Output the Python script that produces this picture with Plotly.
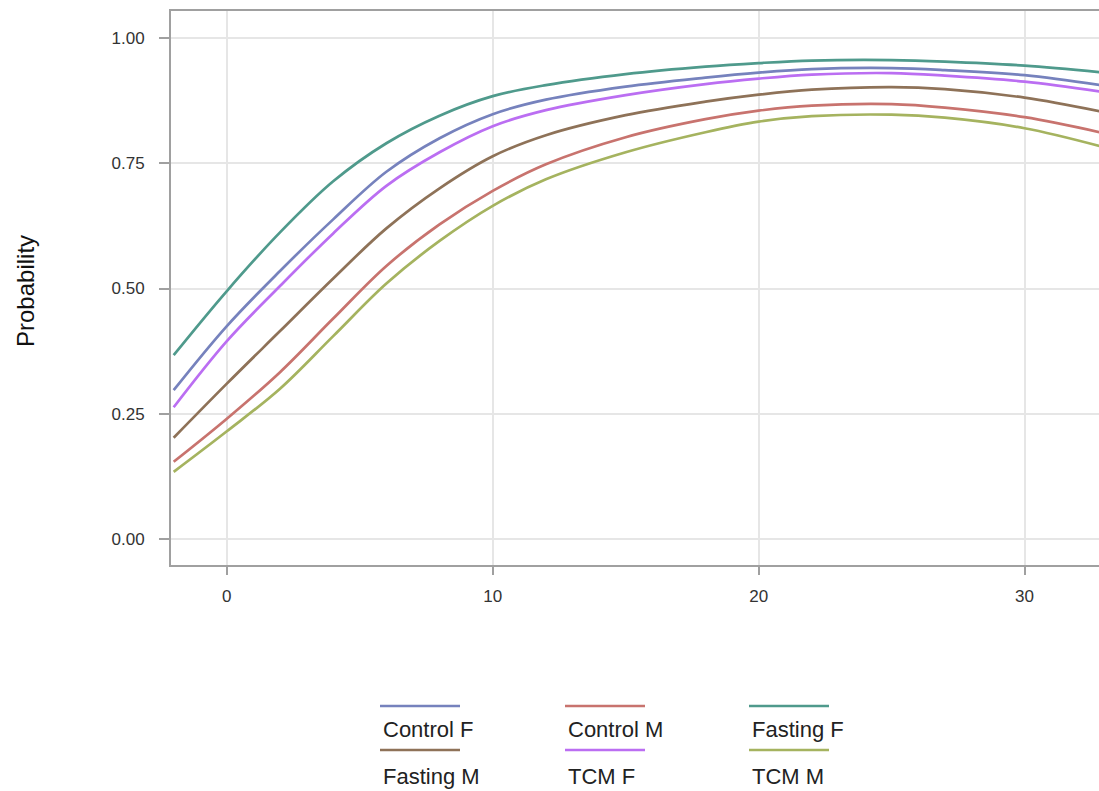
import plotly.graph_objects as go

x_vals = [-2, 0, 2, 4, 6, 8, 10, 12, 15, 18, 20, 22, 25, 27, 30, 33]

control_f = [0.297, 0.425, 0.535, 0.638, 0.733, 0.800, 0.848, 0.877, 0.903, 0.921, 0.931, 0.938, 0.940, 0.936, 0.926, 0.905]
control_m = [0.154, 0.240, 0.333, 0.440, 0.545, 0.628, 0.695, 0.748, 0.802, 0.838, 0.855, 0.865, 0.868, 0.861, 0.842, 0.810]
fasting_f = [0.367, 0.495, 0.612, 0.714, 0.790, 0.845, 0.884, 0.906, 0.928, 0.943, 0.950, 0.955, 0.956, 0.953, 0.945, 0.931]
fasting_m = [0.202, 0.310, 0.415, 0.520, 0.620, 0.700, 0.764, 0.806, 0.846, 0.873, 0.887, 0.897, 0.902, 0.898, 0.881, 0.852]
tcm_f = [0.263, 0.395, 0.505, 0.610, 0.705, 0.772, 0.824, 0.856, 0.886, 0.908, 0.919, 0.927, 0.930, 0.925, 0.913, 0.892]
tcm_m = [0.134, 0.215, 0.300, 0.405, 0.510, 0.595, 0.665, 0.718, 0.772, 0.812, 0.833, 0.844, 0.847, 0.841, 0.820, 0.782]

series_names = ["Control F", "Control M", "Fasting F", "Fasting M", "TCM F", "TCM M"]
series_values = [control_f, control_m, fasting_f, fasting_m, tcm_f, tcm_m]
colors = ["#7682bd", "#c8736e", "#4f9a8c", "#8e7258", "#bb6ef2", "#a5b35f"]

y_ticks = [0.0, 0.25, 0.5, 0.75, 1.0]
y_tick_labels = ["0.00", "0.25", "0.50", "0.75", "1.00"]
x_ticks = [0, 10, 20, 30]

fig = go.Figure()
for name, vals, col in zip(series_names, series_values, colors):
    fig.add_trace(go.Scatter(x=x_vals, y=vals, mode="lines", name=name,
                             line=dict(color=col, width=2.7, shape="spline", smoothing=1.0),
                             showlegend=False))

W, H = 1099, 791
ml, mr, mt, mb = 171, 0, 11, 226
pw, ph = W - ml - mr, H - mt - mb

def px_to_paper(px, py):
    return (px - ml) / pw, (H - mb - py) / ph

# custom legend: line above text, 3 columns x 2 rows
col_x = [380, 565, 749]
row_line_y = [706, 750]
row_text_y = [729, 776]
shapes = []
annotations = []
for i, (name, col) in enumerate(zip(series_names, colors)):
    r, c = divmod(i, 3)
    x0, y0 = px_to_paper(col_x[c], row_line_y[r])
    x1, _ = px_to_paper(col_x[c] + 80, row_line_y[r])
    shapes.append(dict(type="line", xref="paper", yref="paper", x0=x0, x1=x1, y0=y0, y1=y0,
                       line=dict(color=col, width=2.6)))
    tx, ty = px_to_paper(col_x[c] + 1, row_text_y[r])
    annotations.append(dict(text=name, xref="paper", yref="paper", x=tx, y=ty,
                            xanchor="left", yanchor="middle", showarrow=False,
                            font=dict(family="Liberation Sans, Arial", size=22, color="#222222")))

tx, ty = px_to_paper(25, 291)
annotations.append(dict(text="Probability", xref="paper", yref="paper", x=tx, y=ty,
                        xanchor="center", yanchor="middle", textangle=-90, showarrow=False,
                        font=dict(family="Liberation Sans, Arial", size=24, color="#111111")))

tick_font = dict(family="Liberation Sans, Arial", size=17, color="#333333")

fig.update_layout(
    width=W, height=H,
    margin=dict(l=ml, r=mr, t=mt, b=mb, pad=0),
    plot_bgcolor="white", paper_bgcolor="white",
    shapes=shapes, annotations=annotations,
    xaxis=dict(range=[-2.1, 32.8], tickvals=x_ticks, showgrid=True, gridcolor="#e6e6e6", gridwidth=1.5,
               zeroline=False, showline=True, linecolor="#a0a0a0", linewidth=2, mirror=True,
               ticks="outside", ticklen=8, tickcolor="#a0a0a0", tickwidth=2,
               ticklabelstandoff=7, tickfont=tick_font),
    yaxis=dict(range=[-0.052, 1.054], tickvals=y_ticks, ticktext=y_tick_labels, showgrid=True,
               gridcolor="#e6e6e6", gridwidth=1.5, zeroline=False, showline=True, linecolor="#a0a0a0",
               linewidth=2, ticks="outside", ticklen=10, tickcolor="#a0a0a0", tickwidth=2,
               ticklabelstandoff=11, tickfont=tick_font),
)

fig.write_html("out.html")
